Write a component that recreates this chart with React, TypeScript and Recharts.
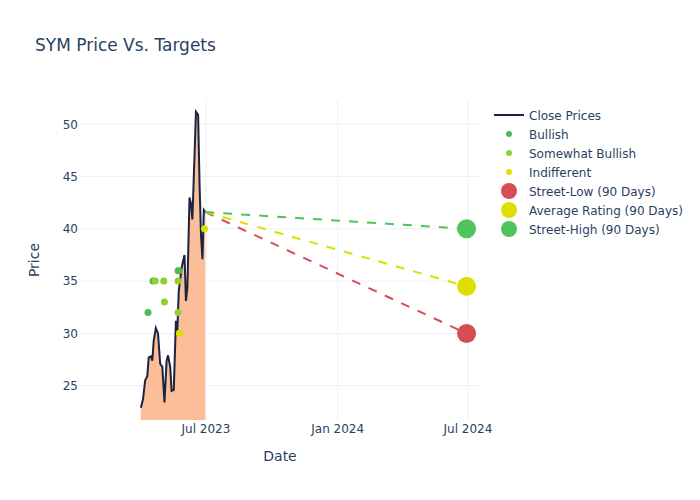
import React from 'react';
import { ComposedChart, Area, Line, Scatter, XAxis, YAxis, CartesianGrid } from 'recharts';

const DAY = 86400000;
const toT = (s: string) => {
  const [y, m, d] = s.split('-').map(Number);
  return Date.UTC(y, m - 1, d);
};

// Close prices
const closeDates = [
  '2023-04-01', '2023-04-04', '2023-04-07', '2023-04-10', '2023-04-12', '2023-04-15', '2023-04-17',
  '2023-04-19', '2023-04-22', '2023-04-25', '2023-04-28', '2023-05-01', '2023-05-04', '2023-05-07',
  '2023-05-09', '2023-05-12', '2023-05-14', '2023-05-17', '2023-05-20', '2023-05-22', '2023-05-24',
  '2023-05-28', '2023-06-01', '2023-06-03', '2023-06-05', '2023-06-08', '2023-06-10', '2023-06-12',
  '2023-06-17', '2023-06-20', '2023-06-22', '2023-06-24', '2023-06-26', '2023-06-28', '2023-06-30',
];
const closePrices = [
  22.9, 23.7, 25.5, 25.9, 27.7, 27.8, 27.4,
  29.3, 30.5, 30.0, 27.1, 26.8, 23.4, 27.4,
  27.9, 26.8, 24.5, 24.6, 31.2, 30.3, 34.1,
  36.3, 37.5, 33.1, 34.4, 43.0, 42.4, 40.9,
  51.2, 50.9, 44.3, 39.5, 37.1, 41.8, 41.6,
];

// Analyst ratings
const bullishDates = ['2023-04-11', '2023-04-18', '2023-05-23', '2023-05-24'];
const bullishValues = [32, 35, 36, 36];
const somewhatBullishDates = ['2023-04-21', '2023-05-03', '2023-05-04', '2023-05-23', '2023-05-23'];
const somewhatBullishValues = [35, 35, 33, 35, 32];
const indifferentDates = ['2023-05-25', '2023-06-29'];
const indifferentValues = [30, 40];

// Targets (90 days)
const targetStartDate = '2023-06-30';
const targetStartValue = 41.6;
const targetDate = '2024-06-29';
const streetLow = 30;
const averageRating = 34.5;
const streetHigh = 40;

// Axis ticks
const xTickDates = ['2023-07-01', '2024-01-01', '2024-07-01'];
const xTickLabels = ['Jul 2023', 'Jan 2024', 'Jul 2024'];
const yTicks = [25, 30, 35, 40, 45, 50];

const C = {
  text: '#2a3f5f',
  grid: '#ebf0f8',
  close: '#1a2340',
  fill: '#fbbe98',
  bullish: '#4cbb55',
  somewhat: '#8fd030',
  indifferent: '#e0e000',
  low: '#d64d53',
  avg: '#dede00',
  high: '#4fc45e',
};

const zip = (ds: string[], vs: number[]) => ds.map((d, i) => ({ t: toT(d), v: vs[i] }));

const closeData = zip(closeDates, closePrices);
const bullishData = zip(bullishDates, bullishValues);
const somewhatData = zip(somewhatBullishDates, somewhatBullishValues);
const indifferentData = zip(indifferentDates, indifferentValues);
const lowLine = zip([targetStartDate, targetDate], [targetStartValue, streetLow]);
const avgLine = zip([targetStartDate, targetDate], [targetStartValue, averageRating]);
const highLine = zip([targetStartDate, targetDate], [targetStartValue, streetHigh]);
const lowPt = zip([targetDate], [streetLow]);
const avgPt = zip([targetDate], [averageRating]);
const highPt = zip([targetDate], [streetHigh]);

const xTicks = xTickDates.map(toT);
const jul2023 = toT('2023-07-01');
const xDomain = [jul2023 - 176 * DAY, jul2023 + 382.8 * DAY];

const dot = (r: number, fill: string) => (props: any) =>
  props.cx == null ? <g /> : <circle cx={props.cx} cy={props.cy} r={r} fill={fill} />;

const scaleOf = (axis: any) => {
  const s = axis && axis.scale;
  if (!s) return null;
  if (typeof s === 'function') return (v: number) => s(v);
  if (typeof s.map === 'function') return (v: number) => s.map(v);
  return null;
};

const hGen = (args: any) => {
  const f = scaleOf(args.yAxis);
  return f ? yTicks.map(f) : [];
};
const vGen = (args: any) => {
  const f = scaleOf(args.xAxis);
  return f ? xTicks.map(f) : [];
};

const PriceLabel = (props: any) => {
  const vb = props.viewBox || { x: 0, y: 100, width: 80, height: 320 };
  const cx = 34;
  const cy = vb.y + vb.height / 2;
  return (
    <text x={cx} y={cy} transform={`rotate(-90, ${cx}, ${cy})`} textAnchor="middle" dominantBaseline="central" fontSize={14} fill={C.text}>
      Price
    </text>
  );
};

const DateLabel = (props: any) => {
  const vb = props.viewBox || { x: 80, y: 420, width: 400, height: 80 };
  return (
    <text x={vb.x + vb.width / 2} y={461} textAnchor="middle" fontSize={14} fill={C.text}>
      Date
    </text>
  );
};

const legendItems = [
  { label: 'Close Prices', kind: 'line', color: C.close, r: 0 },
  { label: 'Bullish', kind: 'dot', color: C.bullish, r: 3 },
  { label: 'Somewhat Bullish', kind: 'dot', color: C.somewhat, r: 3 },
  { label: 'Indifferent', kind: 'dot', color: C.indifferent, r: 3 },
  { label: 'Street-Low (90 Days)', kind: 'dot', color: C.low, r: 8 },
  { label: 'Average Rating (90 Days)', kind: 'dot', color: C.avg, r: 8 },
  { label: 'Street-High (90 Days)', kind: 'dot', color: C.high, r: 8 },
];

export default function App() {
  return (
    <div style={{ position: 'absolute', left: 0, top: 0, width: 700, height: 500, background: '#fff', fontFamily: '"DejaVu Sans", Verdana, sans-serif' }}>
      <ComposedChart width={700} height={500} margin={{ top: 100, right: 220, bottom: 0, left: 0 }}>
        <CartesianGrid
          stroke={C.grid}
          strokeWidth={1}
          horizontalCoordinatesGenerator={hGen}
          verticalCoordinatesGenerator={vGen}
        />
        <XAxis
          dataKey="t"
          type="number"
          domain={xDomain}
          allowDataOverflow
          ticks={xTicks}
          tickFormatter={(t: number) => xTickLabels[xTicks.indexOf(t)] ?? ''}
          height={80}
          axisLine={false}
          tickLine={false}
          tickSize={0}
          tickMargin={4}
          tick={{ fontSize: 12, fill: C.text }}
          label={<DateLabel />}
        />
        <YAxis
          dataKey="v"
          type="number"
          domain={[21.72, 52.32]}
          allowDataOverflow
          ticks={yTicks}
          width={80}
          axisLine={false}
          tickLine={false}
          tickSize={0}
          tickMargin={2}
          tick={{ fontSize: 12, fill: C.text }}
          label={<PriceLabel />}
        />
        <Area
          data={closeData}
          dataKey="v"
          type="linear"
          stroke={C.close}
          strokeWidth={2}
          fill={C.fill}
          fillOpacity={1}
          dot={false}
          activeDot={false}
          isAnimationActive={false}
        />
        <Scatter data={bullishData} dataKey="v" shape={dot(3.5, C.bullish)} isAnimationActive={false} />
        <Scatter data={somewhatData} dataKey="v" shape={dot(3.5, C.somewhat)} isAnimationActive={false} />
        <Scatter data={indifferentData} dataKey="v" shape={dot(3.5, C.indifferent)} isAnimationActive={false} />
        <Line data={lowLine} dataKey="v" type="linear" stroke={C.low} strokeWidth={2} strokeDasharray="9 9" dot={false} activeDot={false} isAnimationActive={false} />
        <Line data={avgLine} dataKey="v" type="linear" stroke={C.avg} strokeWidth={2} strokeDasharray="9 9" dot={false} activeDot={false} isAnimationActive={false} />
        <Line data={highLine} dataKey="v" type="linear" stroke={C.high} strokeWidth={2} strokeDasharray="9 9" dot={false} activeDot={false} isAnimationActive={false} />
        <Scatter data={lowPt} dataKey="v" shape={dot(9.5, C.low)} isAnimationActive={false} />
        <Scatter data={avgPt} dataKey="v" shape={dot(9.5, C.avg)} isAnimationActive={false} />
        <Scatter data={highPt} dataKey="v" shape={dot(9.5, C.high)} isAnimationActive={false} />
      </ComposedChart>
      <svg width={700} height={500} style={{ position: 'absolute', left: 0, top: 0, pointerEvents: 'none' }}>
        <text x={35} y={51} fontSize={17} fill={C.text}>SYM Price Vs. Targets</text>
        {legendItems.map((it, i) => {
          const cy = 115 + i * 19;
          return (
            <g key={it.label}>
              {it.kind === 'line' ? (
                <line x1={494} x2={524} y1={cy} y2={cy} stroke={it.color} strokeWidth={2} />
              ) : (
                <circle cx={509} cy={cy} r={it.r} fill={it.color} />
              )}
              <text x={529} y={cy + 4.5} fontSize={12} fill={C.text}>{it.label}</text>
            </g>
          );
        })}
      </svg>
    </div>
  );
}
